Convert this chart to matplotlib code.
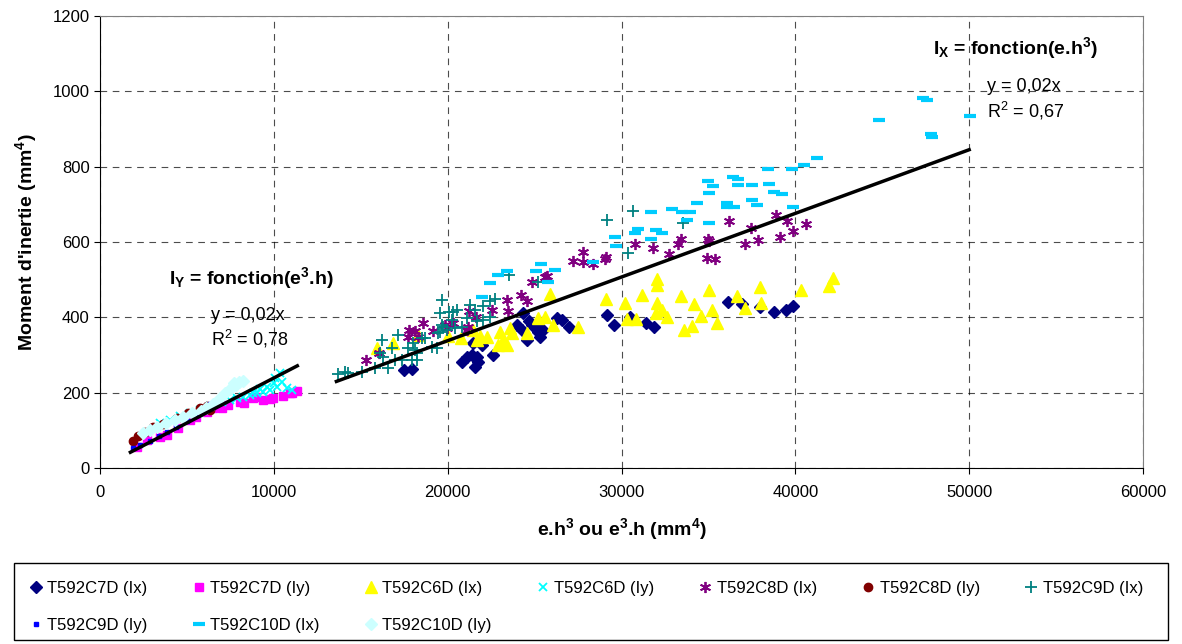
import numpy as np
import matplotlib.pyplot as plt
from matplotlib.patches import Rectangle

plt.rcParams['font.family'] = ['Liberation Sans', 'DejaVu Sans']
plt.rcParams['mathtext.fontset'] = 'custom'
plt.rcParams['mathtext.rm'] = 'Liberation Sans'
plt.rcParams['mathtext.bf'] = 'Liberation Sans:bold'
plt.rcParams['mathtext.default'] = 'regular'

# ---- data (x = e.h^3 or e^3.h, y = moment, mm^4) ----
c7d_ix_x = [17490, 17930, 20800, 21100, 21390, 21670, 21770, 21580, 22630, 21480, 21960,
            24260, 24590, 24830, 25220, 25320, 25510, 24360, 26270, 26560, 27000, 23970,
            25120, 24700, 29150, 29540, 30490, 31420, 31870, 36150, 36960, 37970, 38760,
            39450, 39870]
c7d_ix_y = [260, 262, 282, 296, 300, 296, 282, 269, 300, 331, 327,
            366, 340, 380, 362, 349, 366, 411, 397, 393, 375, 380,
            382, 390, 406, 380, 402, 384, 375, 440, 435, 427, 413,
            419, 430]

c7d_iy_x = [2110, 2680, 3450, 3830, 4500, 5180, 5500, 6140, 6520, 7000, 7380, 8060, 8300,
            8820, 9000, 9400, 9780, 9970, 10500, 10930, 11030, 11310]
c7d_iy_y = [57, 74, 83, 88, 105, 128, 135, 149, 158, 160, 167, 176, 172,
            185, 188, 181, 182, 185, 190, 198, 198, 205]

c6d_ix_x = [15920, 16880, 18310, 20040, 20750, 21480, 21860, 22250, 21670, 23010, 23200,
            23590, 23690, 22920, 23400, 24540, 25220, 25600, 25890, 26080, 27520, 29110,
            30210, 30300, 30820, 31190, 32030, 32030, 32070, 31970, 32350, 32640, 33430,
            33620, 34040, 34180, 34580, 35020, 35230, 35480, 36670, 37090, 37970, 38030,
            40310, 41920, 42190]
c6d_ix_y = [318, 331, 353, 350, 344, 366, 350, 349, 340, 362, 340,
            371, 358, 327, 327, 358, 397, 402, 462, 380, 375, 450,
            437, 395, 395, 459, 501, 486, 439, 411, 419, 402, 457,
            366, 378, 435, 404, 473, 419, 386, 457, 426, 481, 437,
            473, 483, 505]

c6d_iy_x = [3450, 4000, 4600, 5200, 5750, 6300, 7000, 7480, 7870, 8250, 8630, 8800, 9010,
            9200, 9400, 9600, 9780, 10000, 10070, 10170, 10360, 10450, 10740, 11030]
c6d_iy_y = [120, 128, 138, 145, 155, 165, 175, 181, 185, 189, 194, 200, 198,
            210, 203, 215, 207, 225, 238, 216, 251, 229, 212, 207]

c8d_ix_x = [15300, 16070, 17700, 17800, 18120, 18310, 18600, 19160, 19850, 19950, 20330,
            21100, 21190, 21250, 21620, 22570, 23400, 23490, 24200, 24540, 24830, 25600,
            25740, 27230, 27810, 28380, 29070, 29090, 27810, 30780, 31820, 32760, 33230,
            33400, 35000, 35040, 34900, 35400, 36190, 37460, 37130, 37830, 38900, 39510,
            39090, 39870, 40600]
c8d_ix_y = [288, 306, 349, 366, 363, 349, 384, 365, 380, 371, 384,
            366, 375, 417, 400, 420, 446, 417, 459, 443, 493, 506,
            510, 550, 546, 541, 554, 559, 574, 595, 583, 567, 595,
            609, 609, 602, 558, 554, 656, 636, 595, 604, 672, 655,
            613, 628, 647]

c8d_iy_x = [1920, 2200, 2600, 3070, 3600, 4410, 5080, 5750, 6140, 6330]
c8d_iy_y = [72, 85, 95, 108, 118, 132, 145, 160, 165, 155]

c9d_ix_x = [13710, 14100, 14290, 15060, 15820, 16590, 16210, 16110, 16300, 16780, 17170,
            16970, 17350, 17930, 18220, 17740, 18030, 18120, 18220, 18700, 18510, 19080,
            19370, 19460, 19560, 19660, 19560, 19660, 20100, 20330, 20520, 20230, 19750,
            19950, 20430, 21290, 21580, 22010, 22440, 22730, 21100, 21670, 22060, 22440,
            20800, 23550, 25210, 30400, 29150, 30680, 33520]
c9d_ix_y = [250, 256, 251, 256, 265, 265, 340, 305, 296, 318, 353,
            287, 287, 287, 287, 318, 331, 313, 305, 344, 344, 322,
            318, 358, 362, 380, 411, 446, 415, 415, 419, 393, 375,
            366, 371, 433, 419, 430, 444, 448, 397, 389, 393, 400,
            375, 512, 495, 570, 658, 682, 650]

c9d_iy_x = [1920, 2300, 2880, 3400, 3830, 4400, 5000, 5600, 6000, 6330]
c9d_iy_y = [52, 60, 72, 85, 96, 110, 125, 140, 155, 170]

c10d_ix_x = [21980, 22440, 22900, 23400, 25350, 25100, 26150, 25800, 28380, 29620, 29680,
             30780, 30940, 31700, 31720, 31990, 32320, 32930, 33470, 33770, 33950, 34330,
             34965, 35020, 35020, 35250, 36090, 36090, 36480, 36440, 36730, 36710, 37490,
             37530, 37800, 38400, 38470, 38800, 39260, 39830, 39890, 40490, 41260, 44820,
             47320, 47570, 47780, 47850, 50060]
c10d_ix_y = [453, 490, 512, 522, 542, 524, 525, 495, 546, 613, 589,
             623, 634, 607, 679, 631, 624, 687, 680, 658, 680, 704,
             763, 731, 651, 749, 704, 694, 694, 772, 767, 752, 712,
             750, 697, 793, 753, 732, 727, 793, 694, 804, 822, 923,
             981, 976, 887, 879, 934]

c10d_iy_x = [2490, 2900, 3300, 3800, 4300, 4800, 5300, 5800, 6100, 6500, 6900, 7200, 7500,
             7700, 7800, 8000, 8250]
c10d_iy_y = [92, 100, 110, 120, 128, 135, 145, 152, 160, 170, 185, 200, 210,
             225, 220, 228, 230]

# linear trends through the origin (slope, x range)
iy_slope, iy_x0, iy_x1 = 0.0239, 1750, 11350
ix_slope, ix_x0, ix_x1 = 0.0169, 13600, 50000

series = [
    ("T592C7D (Ix)", c7d_ix_x, c7d_ix_y, dict(marker="D", color="#000080", ms=6)),
    ("T592C7D (Iy)", c7d_iy_x, c7d_iy_y, dict(marker="s", color="#FF00FF", ms=6)),
    ("T592C6D (Ix)", c6d_ix_x, c6d_ix_y, dict(marker="^", color="#FFFF00", ms=8)),
    ("T592C6D (Iy)", c6d_iy_x, c6d_iy_y, dict(marker="x", color="#00FFFF", ms=6, mew=1.3)),
    ("T592C8D (Ix)", c8d_ix_x, c8d_ix_y, dict(marker=(6, 2, 0), color="#800080", ms=8, mew=1.3)),
    ("T592C8D (Iy)", c8d_iy_x, c8d_iy_y, dict(marker="o", color="#800000", ms=6)),
    ("T592C9D (Ix)", c9d_ix_x, c9d_ix_y, dict(marker="+", color="#008080", ms=8, mew=1.3)),
    ("T592C9D (Iy)", c9d_iy_x, c9d_iy_y, dict(marker="s", color="#0000FF", ms=3)),
    ("T592C10D (Ix)", c10d_ix_x, c10d_ix_y, dict(marker="_", color="#00CCFF", ms=8, mew=3)),
    ("T592C10D (Iy)", c10d_iy_x, c10d_iy_y, dict(marker="D", color="#CCFFFF", ms=6)),
]

W, H = 1182, 644
fig = plt.figure(figsize=(W / 100, H / 100), dpi=100)
ax = fig.add_axes([100 / W, 1 - 468 / H, 1043 / W, 452 / H])

handles = []
for label, xs, ys, st in series:
    h, = ax.plot(xs, ys, linestyle="none", label=label, **st)
    handles.append(h)

xl = np.array([iy_x0, iy_x1])
ax.plot(xl, iy_slope * xl, color="black", lw=2.5, zorder=5)
xl = np.array([ix_x0, ix_x1])
ax.plot(xl, ix_slope * xl, color="black", lw=2.5, zorder=5)

ax.set_xlim(0, 60000)
ax.set_ylim(0, 1200)
ax.set_xticks(range(0, 60001, 10000))
ax.set_yticks(range(0, 1201, 200))
ax.tick_params(labelsize=12, direction="out", length=4)
ax.tick_params(axis="x", pad=8)
ax.grid(True, color="black", linestyle=(0, (6, 5)), linewidth=0.8, alpha=0.7)
ax.set_axisbelow(True)
for s in ["top", "right"]:
    ax.spines[s].set_color("#808080")

ax.set_xlabel(r"e.h$\mathbf{^3}$ ou e$\mathbf{^3}$.h (mm$\mathbf{^4}$)", fontsize=14,
              fontweight="bold", labelpad=12)
ax.set_ylabel(r"Moment d'inertie (mm$\mathbf{^4}$)", fontsize=14, fontweight="bold",
              labelpad=10)

ax.text(52650, 1115, r"I$\mathbf{_X}$ = fonction(e.h$\mathbf{^3}$)", fontsize=14,
        fontweight="bold", ha="center", va="center")
ax.text(51030, 977, "y = 0,02x\nR$^2$ = 0,67", fontsize=13, ha="left", va="center",
        linespacing=1.25)
ax.text(8690, 504, r"I$\mathbf{_Y}$ = fonction(e$\mathbf{^3}$.h)", fontsize=14,
        fontweight="bold", ha="center", va="center")
ax.text(6390, 370, "y = 0,02x\nR$^2$ = 0,78", fontsize=13, ha="left", va="center",
        linespacing=1.25)

# legend box drawn separately; entries filled column by column, so reorder
fig.patches.append(Rectangle((14 / W, 4 / H), 1154 / W, 77 / H, transform=fig.transFigure,
                             fill=False, edgecolor="black", linewidth=1.0))
order = [0, 7, 1, 8, 2, 9, 3, 4, 5, 6]
fig.legend([handles[i] for i in order], [series[i][0] for i in order],
           loc="center left", bbox_to_anchor=(29 / W, 1 - 607 / H, 1114 / W, 0),
           mode="expand", ncol=7, fontsize=12, frameon=False,
           handlelength=0.8, handletextpad=0.3, borderaxespad=0, labelspacing=1.3,
           borderpad=0)

plt.savefig("out.png", dpi=100)
